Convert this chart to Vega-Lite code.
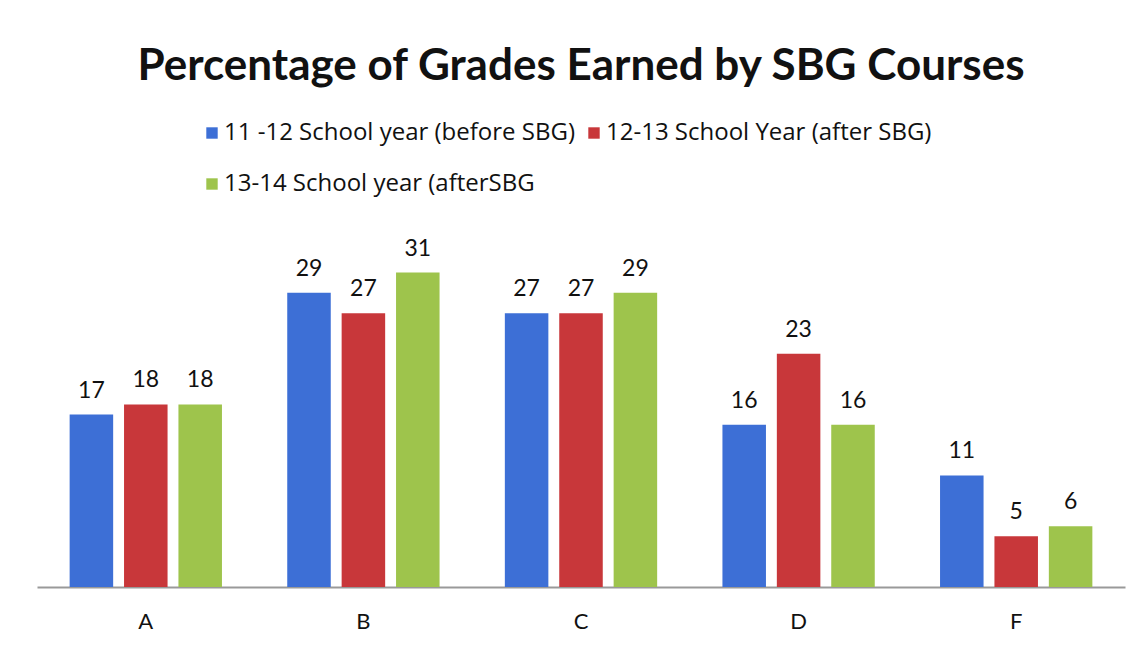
{
  "$schema": "https://vega.github.io/schema/vega-lite/v6.json",
  "width": 1088,
  "height": 355,
  "autosize": {"type": "none"},
  "padding": {"left": 37, "top": 232, "right": 15, "bottom": 64},
  "background": "white",
  "config": {
    "font": "Lato",
    "view": {"stroke": null}
  },
  "title": {
    "text": "Percentage of Grades Earned by SBG Courses",
    "fontSize": 44,
    "font": "Lato",
    "fontWeight": "bold",
    "color": "#111111",
    "anchor": "middle",
    "offset": 32
  },
  "data": {
    "values": [
      {"grade": "A", "year": "11 -12  School year (before SBG)", "pct": 17},
      {"grade": "A", "year": "12-13 School Year (after SBG)", "pct": 18},
      {"grade": "A", "year": "13-14 School year (afterSBG", "pct": 18},
      {"grade": "B", "year": "11 -12  School year (before SBG)", "pct": 29},
      {"grade": "B", "year": "12-13 School Year (after SBG)", "pct": 27},
      {"grade": "B", "year": "13-14 School year (afterSBG", "pct": 31},
      {"grade": "C", "year": "11 -12  School year (before SBG)", "pct": 27},
      {"grade": "C", "year": "12-13 School Year (after SBG)", "pct": 27},
      {"grade": "C", "year": "13-14 School year (afterSBG", "pct": 29},
      {"grade": "D", "year": "11 -12  School year (before SBG)", "pct": 16},
      {"grade": "D", "year": "12-13 School Year (after SBG)", "pct": 23},
      {"grade": "D", "year": "13-14 School year (afterSBG", "pct": 16},
      {"grade": "F", "year": "11 -12  School year (before SBG)", "pct": 11},
      {"grade": "F", "year": "12-13 School Year (after SBG)", "pct": 5},
      {"grade": "F", "year": "13-14 School year (afterSBG", "pct": 6}
    ]
  },
  "encoding": {
    "x": {
      "field": "grade",
      "type": "nominal",
      "scale": {"paddingInner": 0.3, "paddingOuter": 0.15},
      "axis": {
        "title": null,
        "labelAngle": 0,
        "labelFontSize": 22,
        "labelColor": "#111111",
        "labelPadding": 24,
        "ticks": false,
        "domainColor": "#999999",
        "domainWidth": 2
      }
    },
    "xOffset": {
      "field": "year",
      "type": "nominal",
      "scale": {"paddingInner": 0.2, "paddingOuter": 0}
    },
    "y": {
      "field": "pct",
      "type": "quantitative",
      "scale": {"domain": [0, 35]},
      "axis": null
    }
  },
  "layer": [
    {
      "mark": {"type": "bar"},
      "encoding": {
        "color": {
          "field": "year",
          "type": "nominal",
          "scale": {
            "domain": ["11 -12  School year (before SBG)", "12-13 School Year (after SBG)", "13-14 School year (afterSBG"],
            "range": ["#3D6FD6", "#C8373A", "#9EC44C"]
          },
          "legend": {
            "title": null,
            "orient": "none",
            "legendX": 163,
            "legendY": -111,
            "columns": 2,
            "direction": "horizontal",
            "symbolType": "square",
            "symbolSize": 130,
            "symbolStrokeWidth": 0,
            "labelFont": "Open Sans",
            "labelFontSize": 24,
            "labelColor": "#111111",
            "labelLimit": 500,
            "labelOffset": 0,
            "rowPadding": 27,
            "columnPadding": 0
          }
        }
      }
    },
    {
      "mark": {"type": "text", "baseline": "bottom", "dy": -12, "fontSize": 23, "color": "#111111"},
      "encoding": {
        "text": {"field": "pct", "type": "quantitative"}
      }
    }
  ]
}
